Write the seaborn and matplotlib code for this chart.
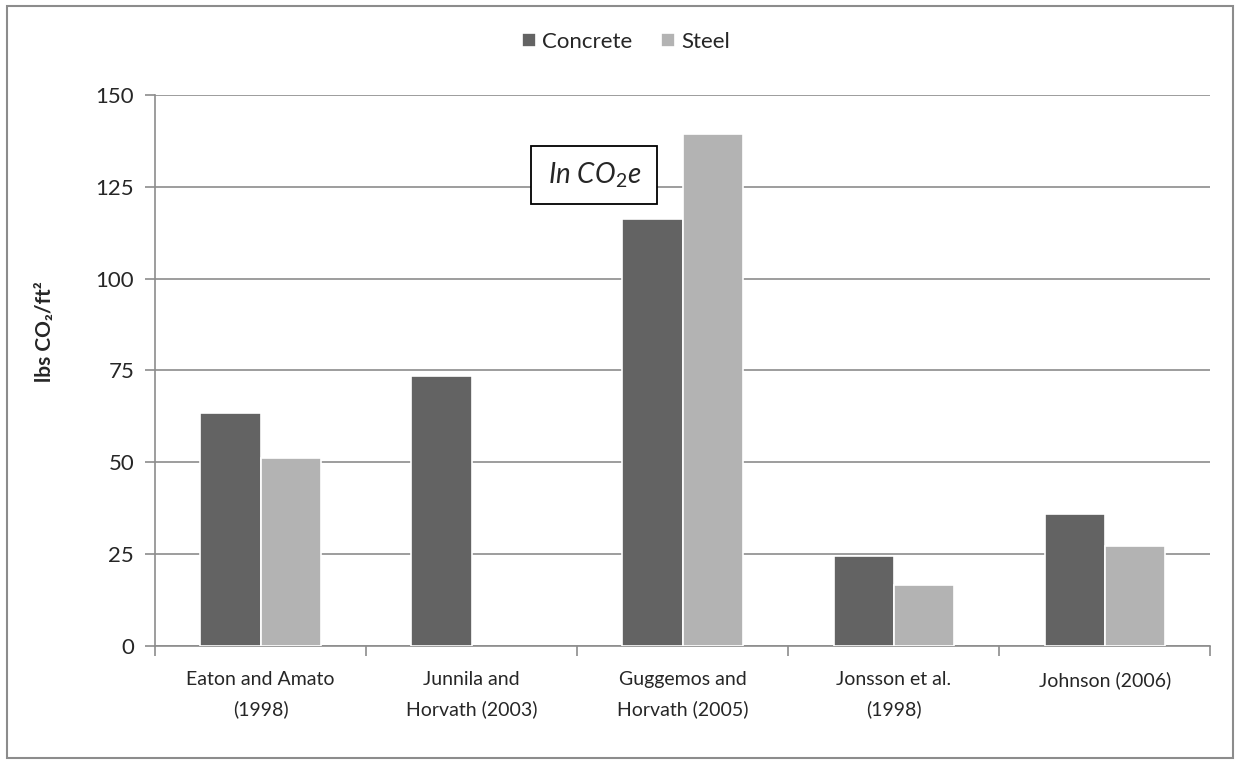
import pandas as pd
import numpy as np
import matplotlib.pyplot as plt
import seaborn as sns
from matplotlib.patches import Rectangle

studies = ["Eaton and Amato\n(1998)", "Junnila and\nHorvath (2003)",
           "Guggemos and\nHorvath (2005)", "Jonsson et al.\n(1998)", "Johnson (2006)"]
concrete = [63.3, 73.6, 116.3, 24.5, 36.0]
steel = [51.2, np.nan, 139.4, 16.5, 27.2]

df = pd.DataFrame({
    "Study": studies * 2,
    "Material": ["Concrete"] * 5 + ["Steel"] * 5,
    "Value": concrete + steel,
})

sns.set_style("white")
plt.rcParams['font.family'] = ['Lato', 'DejaVu Sans']
plt.rcParams['mathtext.fontset'] = 'custom'
plt.rcParams['mathtext.it'] = 'Lato:italic'
plt.rcParams['mathtext.rm'] = 'Lato'

fig = plt.figure(figsize=(12.4, 7.64), dpi=100)
ax = fig.add_axes([0.125, 0.1545, 0.851, 0.7212])

sns.barplot(data=df, x="Study", y="Value", hue="Material", order=studies,
            palette={"Concrete": "#636363", "Steel": "#b3b3b3"},
            width=0.57, edgecolor="white", linewidth=1.2, ax=ax, zorder=3)

ax.set_xlim(-0.5, 4.5)
ax.set_ylim(0, 150)
ax.set_yticks(range(0, 151, 25))
ax.yaxis.grid(True, color="#8c8c8c", linewidth=1.2, zorder=0)
ax.set_axisbelow(True)
for s in ["top", "right"]:
    ax.spines[s].set_visible(False)
for s in ["left", "bottom"]:
    ax.spines[s].set_color("#8c8c8c")
    ax.spines[s].set_linewidth(1.2)

ax.tick_params(axis="y", which="major", length=7, color="#8c8c8c", width=1.2,
               labelsize=16, pad=8, left=True)
ax.tick_params(axis="x", which="major", length=0, labelsize=14, pad=18)
for lbl in ax.get_xticklabels():
    lbl.set_linespacing(1.85)
ax.set_xticks(np.arange(-0.5, 5, 1), minor=True)
ax.tick_params(axis="x", which="minor", length=7, color="#8c8c8c", width=1.2, bottom=True)

ax.set_xlabel("")
ax.set_ylabel("lbs CO\u2082/ft\u00b2", fontsize=15, fontweight="bold")
ax.yaxis.set_label_coords(-0.095, 0.57)

ax.text(1.58, 128.2, "\u2009In CO$_2$e\u2009", fontsize=20, style="italic", ha="center", va="center",
        bbox=dict(boxstyle="square,pad=0.5", facecolor="white", edgecolor="black", linewidth=1.3),
        zorder=5)

leg = ax.legend(loc="center", bbox_to_anchor=(0.505, 0.945), bbox_transform=fig.transFigure,
                ncol=2, frameon=False, fontsize=16, handlelength=0.6, handleheight=0.6,
                handletextpad=0.3, columnspacing=1.3)

fig.patches.append(Rectangle((0.006, 0.008), 0.988, 0.984, transform=fig.transFigure,
                             fill=False, edgecolor="#8c8c8c", linewidth=1.5))

plt.savefig("out.png", dpi=100)
